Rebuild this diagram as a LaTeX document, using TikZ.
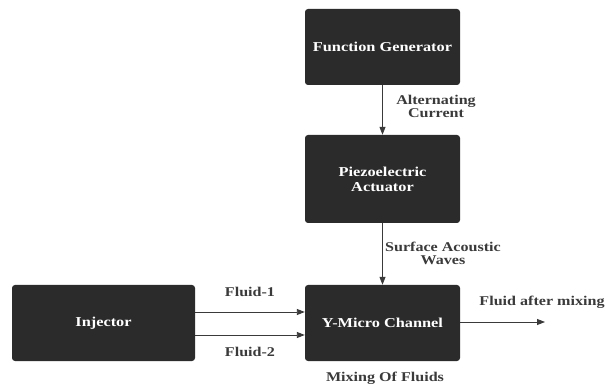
\documentclass[tikz,border=0pt]{standalone}
\usepackage{fontspec}
\setmainfont[FakeStretch=1.2]{Liberation Serif}
\usetikzlibrary{arrows.meta}
\definecolor{boxgray}{HTML}{2B2B2B}
\definecolor{txtgray}{HTML}{3A3A3A}
\tikzset{
  block/.style={draw=none, fill=boxgray, rounded corners=3pt, text=white,
    font=\fontsize{13.6}{15}\selectfont\bfseries, align=center, inner sep=0pt},
  lbl/.style={text=txtgray, font=\fontsize{13.4}{13}\selectfont\bfseries, align=center, inner sep=0pt},
  conn/.style={draw=txtgray, line width=0.9pt, -{Triangle[length=8pt,width=6pt]}}
}
\begin{document}
\begin{tikzpicture}[x=1pt,y=-1pt]
\useasboundingbox[fill=white] (0,0) rectangle (611,390);
\node[block, minimum width=155pt, minimum height=76pt] (fg) at (382.5,47) {Function Generator};
\node[block, minimum width=155pt, minimum height=88pt] (pa) at (382.5,179) {Piezoelectric\\Actuator};
\node[block, minimum width=155pt, minimum height=76pt] (ym) at (382.5,323) {Y-Micro Channel};
\node[block, minimum width=183pt, minimum height=76pt] (inj) at (103.5,323) {Injector};
\coordinate (out) at (545,322);
\draw[conn] (fg.south) -- (pa.north);
\draw[conn] (pa.south) -- (ym.north);
\draw[conn] (inj.east |- 0,312) -- (ym.west |- 0,312);
\draw[conn] (inj.east |- 0,335) -- (ym.west |- 0,335);
\draw[conn] (ym.east |- out) -- (out);
\node[lbl] (ac) at (436,106) {Alternating\\Current};
\node[lbl] (saw) at (443,253) {Surface Acoustic\\Waves};
\node[lbl] (f1) at (250,292) {Fluid-1};
\node[lbl] (f2) at (250,352) {Fluid-2};
\node[lbl] (fam) at (542,302) {Fluid after mixing};
\node[lbl] (mof) at (385,378) {Mixing Of Fluids};
\end{tikzpicture}
\end{document}
